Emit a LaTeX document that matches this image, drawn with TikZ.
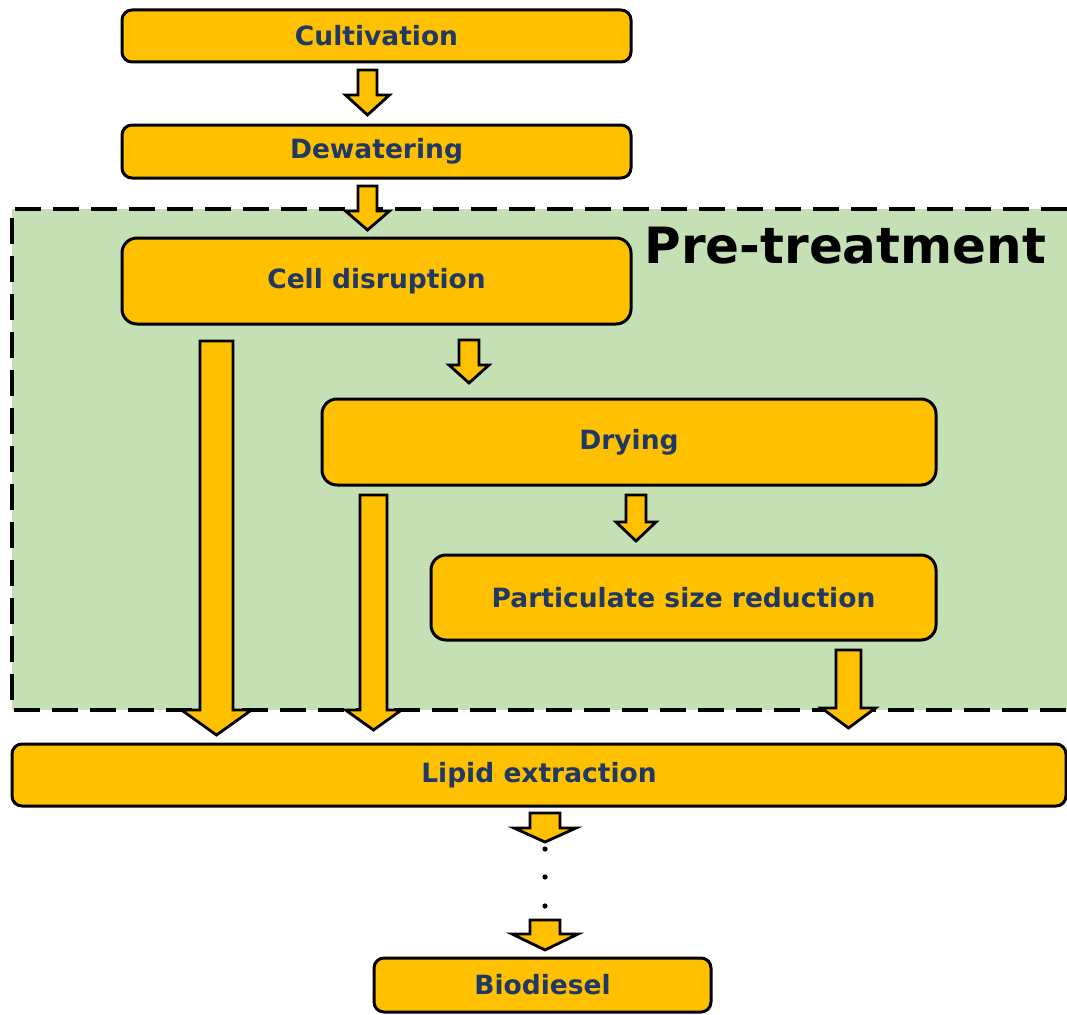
\documentclass[tikz,border=0pt]{standalone}
\usepackage{fontspec}
\setmainfont{DejaVu Sans}
\definecolor{boxyellow}{HTML}{FFC000}
\definecolor{pregreen}{HTML}{C5E0B4}
\definecolor{labelblue}{HTML}{1F3864}
\tikzset{
  stepbox/.style={draw=black,line width=3pt,fill=boxyellow,rounded corners=10pt,
    text=labelblue,font=\fontsize{26.5}{30}\selectfont\bfseries,inner sep=0pt},
  blockfill/.style={draw=black,line width=2.8pt,fill=boxyellow,line join=miter}
}
% block arrow pointing down: x, top, end of shaft, tip, half shaft, half head
\newcommand{\blockdown}[6]{%
  \draw[blockfill] ({#1-#5},#2) -- ({#1+#5},#2) -- ({#1+#5},#3) -- ({#1+#6},#3)
    -- (#1,#4) -- ({#1-#6},#3) -- ({#1-#5},#3) -- cycle;}
\begin{document}
\begin{tikzpicture}[x=1pt,y=-1pt]
  \useasboundingbox (0,0) rectangle (1067,1014);
  % pre-treatment area
  \fill[pregreen] (12,209) rectangle (1067,710);
  \draw[black,line width=3.4pt,dash pattern=on 26pt off 12pt] (1067,209) -- (12,209) -- (12,710) -- (1067,710);
  \node[anchor=west,font=\fontsize{50}{58}\selectfont\bfseries] (pre) at (641,246) {Pre-treatment};
  % process steps
  \node[stepbox,minimum width=509pt,minimum height=52pt] (cult) at (376.5,36) {Cultivation};
  \node[stepbox,minimum width=509pt,minimum height=53pt] (dewat) at (376.5,151.5) {Dewatering};
  \node[stepbox,rounded corners=15pt,minimum width=509pt,minimum height=86pt] (cell) at (376.5,281) {Cell disruption};
  \node[stepbox,rounded corners=15pt,minimum width=614pt,minimum height=86pt] (dry) at (629,442) {Drying};
  \node[stepbox,rounded corners=15pt,minimum width=505pt,minimum height=85pt] (psr) at (683.5,597.5) {Particulate size reduction};
  \node[stepbox,minimum width=1054pt,minimum height=62pt] (lipid) at (539,775) {Lipid extraction};
  \node[stepbox,minimum width=337pt,minimum height=54pt] (bio) at (542.5,985) {Biodiesel};
  % arrows
  \blockdown{367.5}{70}{95}{115}{9.5}{22}
  \blockdown{367.5}{186}{211}{230}{9.5}{22}
  \blockdown{469}{340}{365}{383}{10}{20}
  \blockdown{636}{495}{522}{541}{10}{20}
  \blockdown{216.5}{341}{710}{735}{16.5}{35}
  \blockdown{373.5}{495}{710}{730}{13.5}{28}
  \blockdown{848.5}{650}{708}{728}{12.5}{27}
  \blockdown{545}{813}{828}{842}{15}{31}
  \blockdown{545}{920}{934}{950}{15}{33}
  % dots
  \foreach \y in {849,877,906}
    \fill (545,\y) circle (2.6pt);
\end{tikzpicture}
\end{document}
